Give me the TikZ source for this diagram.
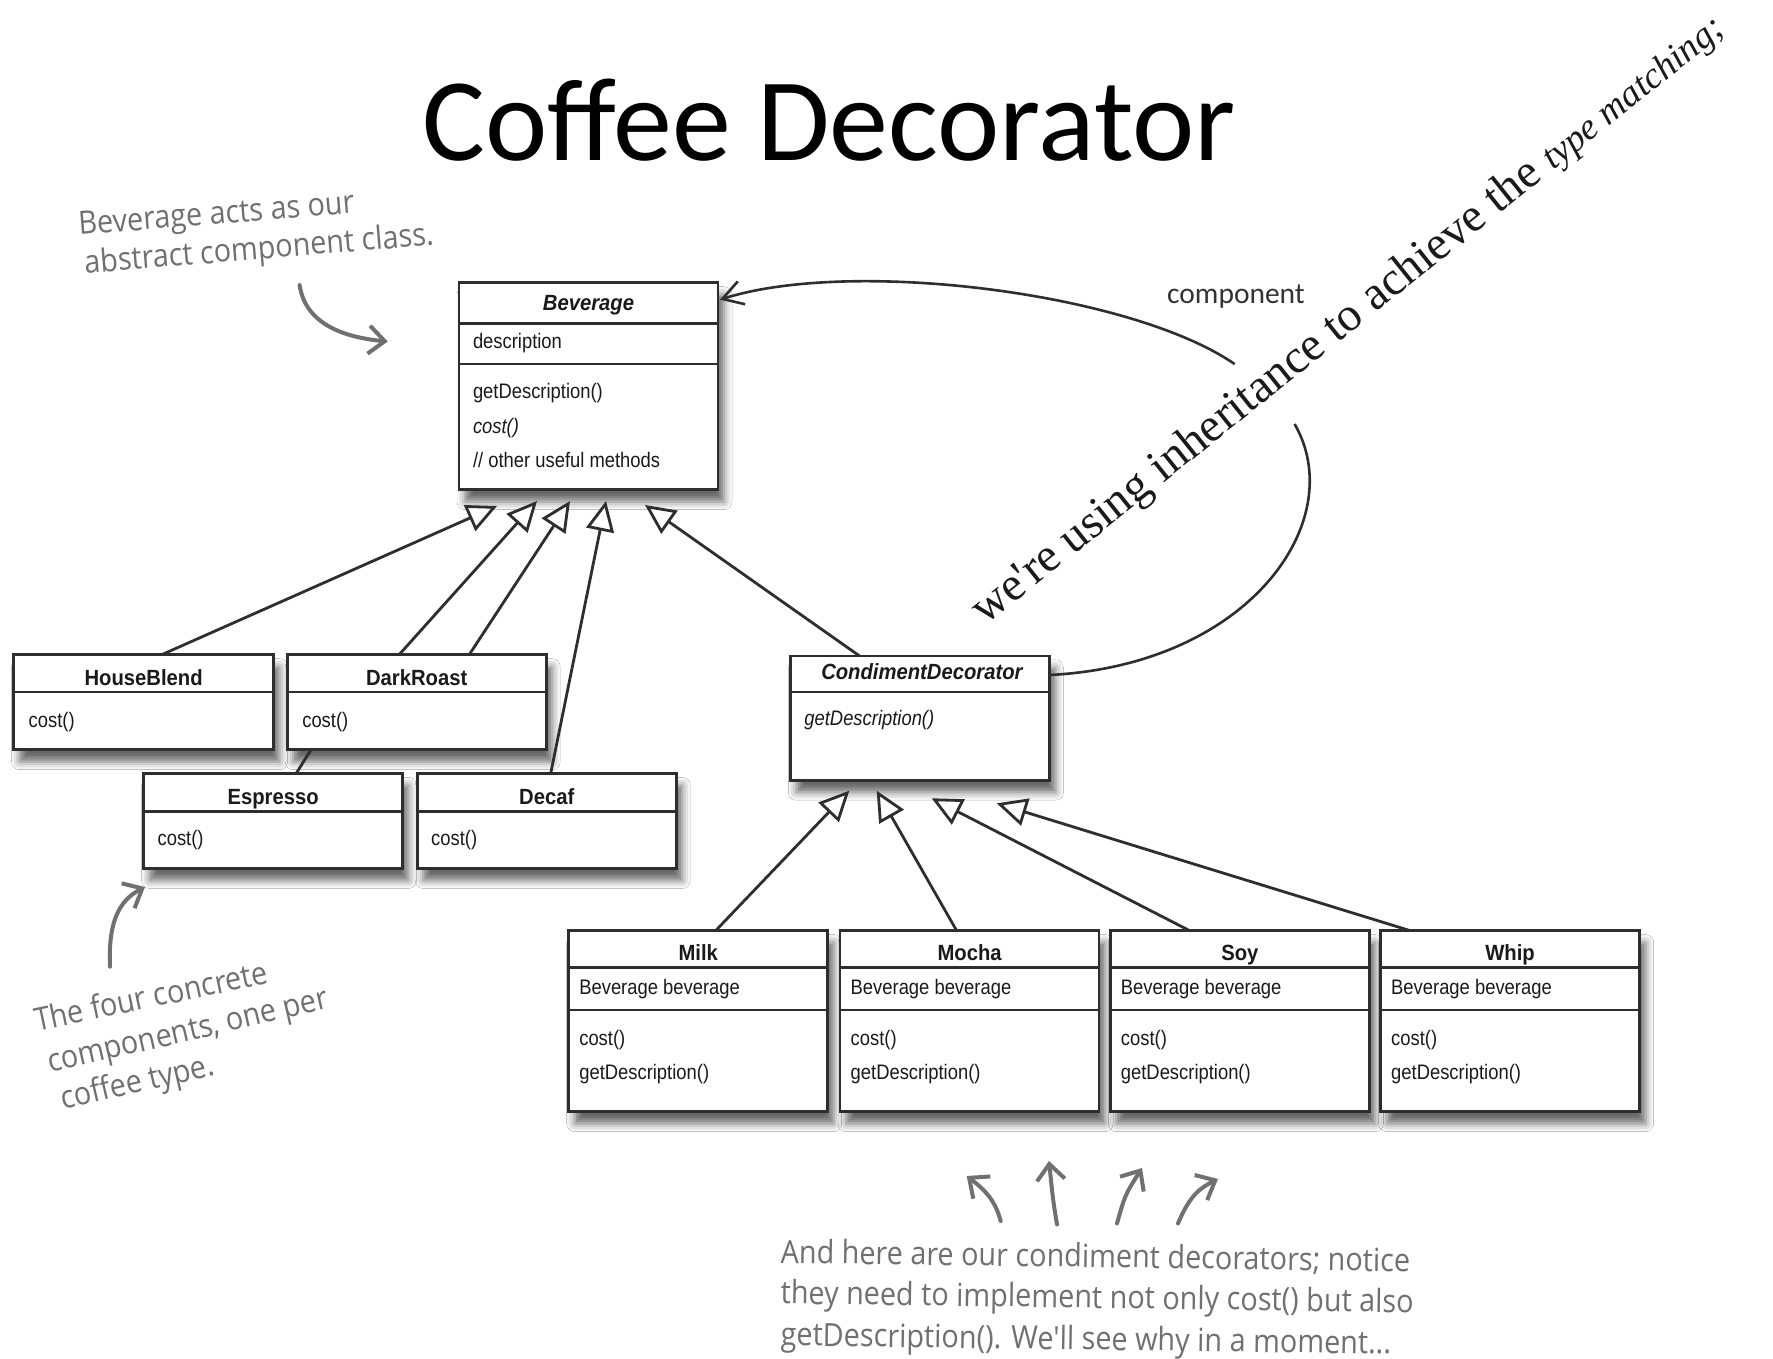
\documentclass[tikz,border=0pt]{standalone}
\usepackage{fontspec}
\newfontfamily\titlefont{Carlito}
\newfontfamily\umlreg[FakeStretch=0.876]{Liberation Sans}
\newfontfamily\umlbold[FakeStretch=0.92]{Liberation Sans}
\newfontfamily\handfont[FakeStretch=0.9]{Open Sans}
\newfontfamily\remarkfont{Liberation Serif}
\usetikzlibrary{arrows.meta,calc,shadows.blur}
\definecolor{boxc}{HTML}{2E2E2E}
\definecolor{txtc}{HTML}{1A1A1A}
\definecolor{handc}{HTML}{707070}
\definecolor{labc}{HTML}{333333}
\tikzset{
  umlbox/.style={draw=boxc, line width=1.3pt, fill=white, rectangle, inner sep=0pt, outer sep=0pt,
    minimum width=129.5pt, anchor=north west,
    blur shadow={shadow xshift=3pt, shadow yshift=-6pt, shadow blur radius=4pt, shadow opacity=60}},
  div/.style={draw=boxc, line width=1.3pt},
  hdr/.style={font=\umlbold\bfseries\fontsize{11}{13}\selectfont, anchor=base, inner sep=0pt, text=txtc},
  mem/.style={font=\umlreg\fontsize{10.5}{12}\selectfont, anchor=base west, inner sep=0pt, text=txtc},
  genline/.style={draw=boxc, line width=1.4pt},
  gen/.style={genline, -{Triangle[length=15pt,width=14pt,fill=white]}},
  assoc/.style={draw=boxc, line width=1.3pt},
  hand/.style={font=\handfont\fontsize{16}{19}\selectfont, text=handc, anchor=base west, inner sep=0pt},
  handarrow/.style={draw=handc, line width=2pt, line cap=round, -{Straight Barb[length=8pt,width=14pt]}},
}
\begin{document}
\begin{tikzpicture}[x=0.5pt,y=-0.5pt]
\fill[white] (0,0) rectangle (1773,1359);
\useasboundingbox (0,0) rectangle (1773,1359);

% title
\node[font=\titlefont\fontsize{59}{62}\selectfont, anchor=base, inner sep=0pt] (title) at (829,161) {Coffee Decorator};

% Beverage
\node[umlbox, minimum height=103.45pt] (bev) at (459,282.7) {};
\draw[div] ($(bev.north west)+(0,40.7)$) -- ($(bev.north east)+(0,40.7)$);
\draw[div] ($(bev.north west)+(0,81.4)$) -- ($(bev.north east)+(0,81.4)$);
\node[hdr, font=\umlbold\bfseries\itshape\fontsize{11}{13}\selectfont] (bevT) at ($(bev.north)+(0,27.3)$) {Beverage};
\node[mem] (bevA) at ($(bev.north west)+(13.6,65.6)$) {description};
\node[mem] (bevM1) at ($(bev.north west)+(13.6,115.6)$) {getDescription()};
\node[mem, font=\umlreg\itshape\fontsize{10.5}{12}\selectfont] (bevM2) at ($(bev.north west)+(13.6,151)$) {cost()};
\node[mem] (bevM3) at ($(bev.north west)+(13.6,185)$) {// other useful methods};

% concrete components
\node[umlbox, minimum height=47.5pt, minimum width=130pt] (hb) at (13.6,654.7) {};
\draw[div] ($(hb.north west)+(0,37.3)$) -- ($(hb.north east)+(0,37.3)$);
\node[hdr] (hbT) at ($(hb.north)+(0,30.3)$) {HouseBlend};
\node[mem] (hbM) at ($(hb.north west)+(14.7,72.6)$) {cost()};

\node[umlbox, minimum height=47.5pt] (dr) at (287.2,654.7) {};
\draw[div] ($(dr.north west)+(0,37.3)$) -- ($(dr.north east)+(0,37.3)$);
\node[hdr] (drT) at ($(dr.north)+(0,30.3)$) {DarkRoast};
\node[mem] (drM) at ($(dr.north west)+(14.7,72.6)$) {cost()};

\node[umlbox, minimum height=47.5pt] (esp) at (143.6,773.4) {};
\draw[div] ($(esp.north west)+(0,37.8)$) -- ($(esp.north east)+(0,37.8)$);
\node[hdr] (espT) at ($(esp.north)+(0,31.2)$) {Espresso};
\node[mem] (espM) at ($(esp.north west)+(13.6,71.8)$) {cost()};

\node[umlbox, minimum height=47.5pt] (dec) at (417.2,773.4) {};
\draw[div] ($(dec.north west)+(0,37.8)$) -- ($(dec.north east)+(0,37.8)$);
\node[hdr] (decT) at ($(dec.north)+(0,31.2)$) {Decaf};
\node[mem] (decM) at ($(dec.north west)+(13.6,71.8)$) {cost()};

% CondimentDecorator
\node[umlbox, minimum height=62.2pt] (cond) at (790.4,655.8) {};
\draw[div] ($(cond.north west)+(0,36)$) -- ($(cond.north east)+(0,36)$);
\node[hdr, font=\umlbold\bfseries\itshape\fontsize{11}{13}\selectfont] (condT) at ($(cond.north)+(2,23.6)$) {CondimentDecorator};
\node[mem, font=\umlreg\itshape\fontsize{10.5}{12}\selectfont] (condM) at ($(cond.north west)+(13.6,69.2)$) {getDescription()};

% decorators
\foreach \nm/\lab/\xx in {milk/Milk/568.7, mocha/Mocha/840.1, soy/Soy/1110.3, whip/Whip/1380.6}{
  \node[umlbox, minimum height=90.5pt] (\nm) at (\xx,930.6) {};
  \draw[div] ($(\nm.north west)+(0,36.6)$) -- ($(\nm.north east)+(0,36.6)$);
  \draw[div] ($(\nm.north west)+(0,79.4)$) -- ($(\nm.north east)+(0,79.4)$);
  \node[hdr] (\nm T) at ($(\nm.north)+(0,30.1)$) {\lab};
  \node[mem] (\nm A) at ($(\nm.north west)+(10.2,63.4)$) {Beverage beverage};
  \node[mem] (\nm M1) at ($(\nm.north west)+(10.2,114.4)$) {cost()};
  \node[mem] (\nm M2) at ($(\nm.north west)+(10.2,148.4)$) {getDescription()};
}

% generalisation tips
\coordinate (t1) at ($(bev.south west)+(38,16.4)$);
\coordinate (t2) at ($(bev.south west)+(78,11.4)$);
\coordinate (t3) at ($(bev.south west)+(111,11.4)$);
\coordinate (t4) at ($(bev.south west)+(147,11.4)$);
\coordinate (t5) at ($(bev.south west)+(186,15.4)$);
\coordinate (ta) at ($(cond.south west)+(58.9,10.5)$);
\coordinate (tb) at ($(cond.south west)+(86.3,10.5)$);
\coordinate (tc) at ($(cond.south west)+(141.3,18.1)$);
\coordinate (td) at ($(cond.south west)+(206.3,23.1)$);

\draw[gen] ($(hb.north west)+(148.1,0)$) -- (t1);
\draw[gen] ($(dr.north west)+(111.9,0)$) -- (t2);
\draw[genline] ($(esp.north west)+(152.6,0)$) -- ($(dr.south west)+(23.8,0)$);
\draw[gen] ($(dr.north west)+(182,0)$) -- (t3);
\draw[gen] ($(dec.north west)+(133.5,0)$) -- (t4);
\draw[gen] ($(cond.north west)+(68.9,0)$) -- (t5);
\draw[gen] ($(milk.north west)+(147,0)$) -- (ta);
\draw[gen] ($(mocha.north west)+(116.5,0)$) -- (tb);
\draw[gen] ($(soy.north west)+(79.2,0)$) -- (tc);
\draw[gen] ($(whip.north west)+(29.4,0)$) -- (td);

% component association
\coordinate (gapA) at (1234.7,364.1);
\coordinate (gapB) at (1294.6,424);
\draw[assoc, -{Straight Barb[length=10pt,width=12pt]}] (gapA) .. controls (1130,292) and (850,258) .. ($(bev.north east)+(2,17)$);
\draw[assoc] ($(cond.north east)+(0,19.2)$) .. controls (1250,665) and (1350,520) .. (gapB);
\node[font=\titlefont\fontsize{14.75}{17}\selectfont, text=labc, anchor=base, inner sep=0pt] (complab) at (1236,303) {component};

% rotated remark
\node[font=\remarkfont\fontsize{23.8}{28}\selectfont, text=txtc, anchor=base west, inner sep=0pt, rotate=38.7] (inh) at (985,626)
  {we're using inheritance to achieve the {\itshape\fontsize{18.6}{22}\selectfont type matching;}};

% handwritten notes
\node[hand, rotate=4.6] (n1a) at (79,235) {Beverage acts as our};
\node[hand, rotate=4.7] (n1b) at (84.8,273.6) {abstract component class.};
\coordinate (h1s) at (299.6,285);
\coordinate (h1e) at (387.8,341.5);
\draw[handarrow] (h1s) .. controls (305,322) and (340,337) .. (h1e);

\node[hand, rotate=11.8] (n2a) at (36.7,1031.7) {The four concrete};
\node[hand, rotate=13] (n2b) at (50,1073) {components, one per};
\node[hand, rotate=13] (n2c) at (63,1110) {coffee type.};
\coordinate (h2s) at (110,966.7);
\coordinate (h2e) at (145,887);
\draw[handarrow] (h2s) .. controls (108,920) and (120,900) .. (h2e);

\node[hand, rotate=-0.8] (n3a) at (780.2,1263) {And here are our condiment decorators; notice};
\node[hand, rotate=-0.8] (n3b) at (780.2,1303.7) {they need to implement not only cost() but also};
\node[hand, rotate=-0.8] (n3c) at (780.2,1345.5) {getDescription(). We'll see why in a moment...};
\coordinate (a1s) at (1000.7,1221); \coordinate (a1e) at (966.7,1176);
\coordinate (a2s) at (1057,1224.5); \coordinate (a2e) at (1049,1161);
\coordinate (a3s) at (1117,1223.4); \coordinate (a3e) at (1142,1168);
\coordinate (a4s) at (1178,1223.4); \coordinate (a4e) at (1218,1179);
\draw[handarrow] (a1s) .. controls (995,1200) and (985,1190) .. (a1e);
\draw[handarrow] (a2s) .. controls (1053,1200) .. (a2e);
\draw[handarrow] (a3s) .. controls (1125,1195) .. (a3e);
\draw[handarrow] (a4s) .. controls (1190,1195) and (1200,1188) .. (a4e);
\end{tikzpicture}
\end{document}
